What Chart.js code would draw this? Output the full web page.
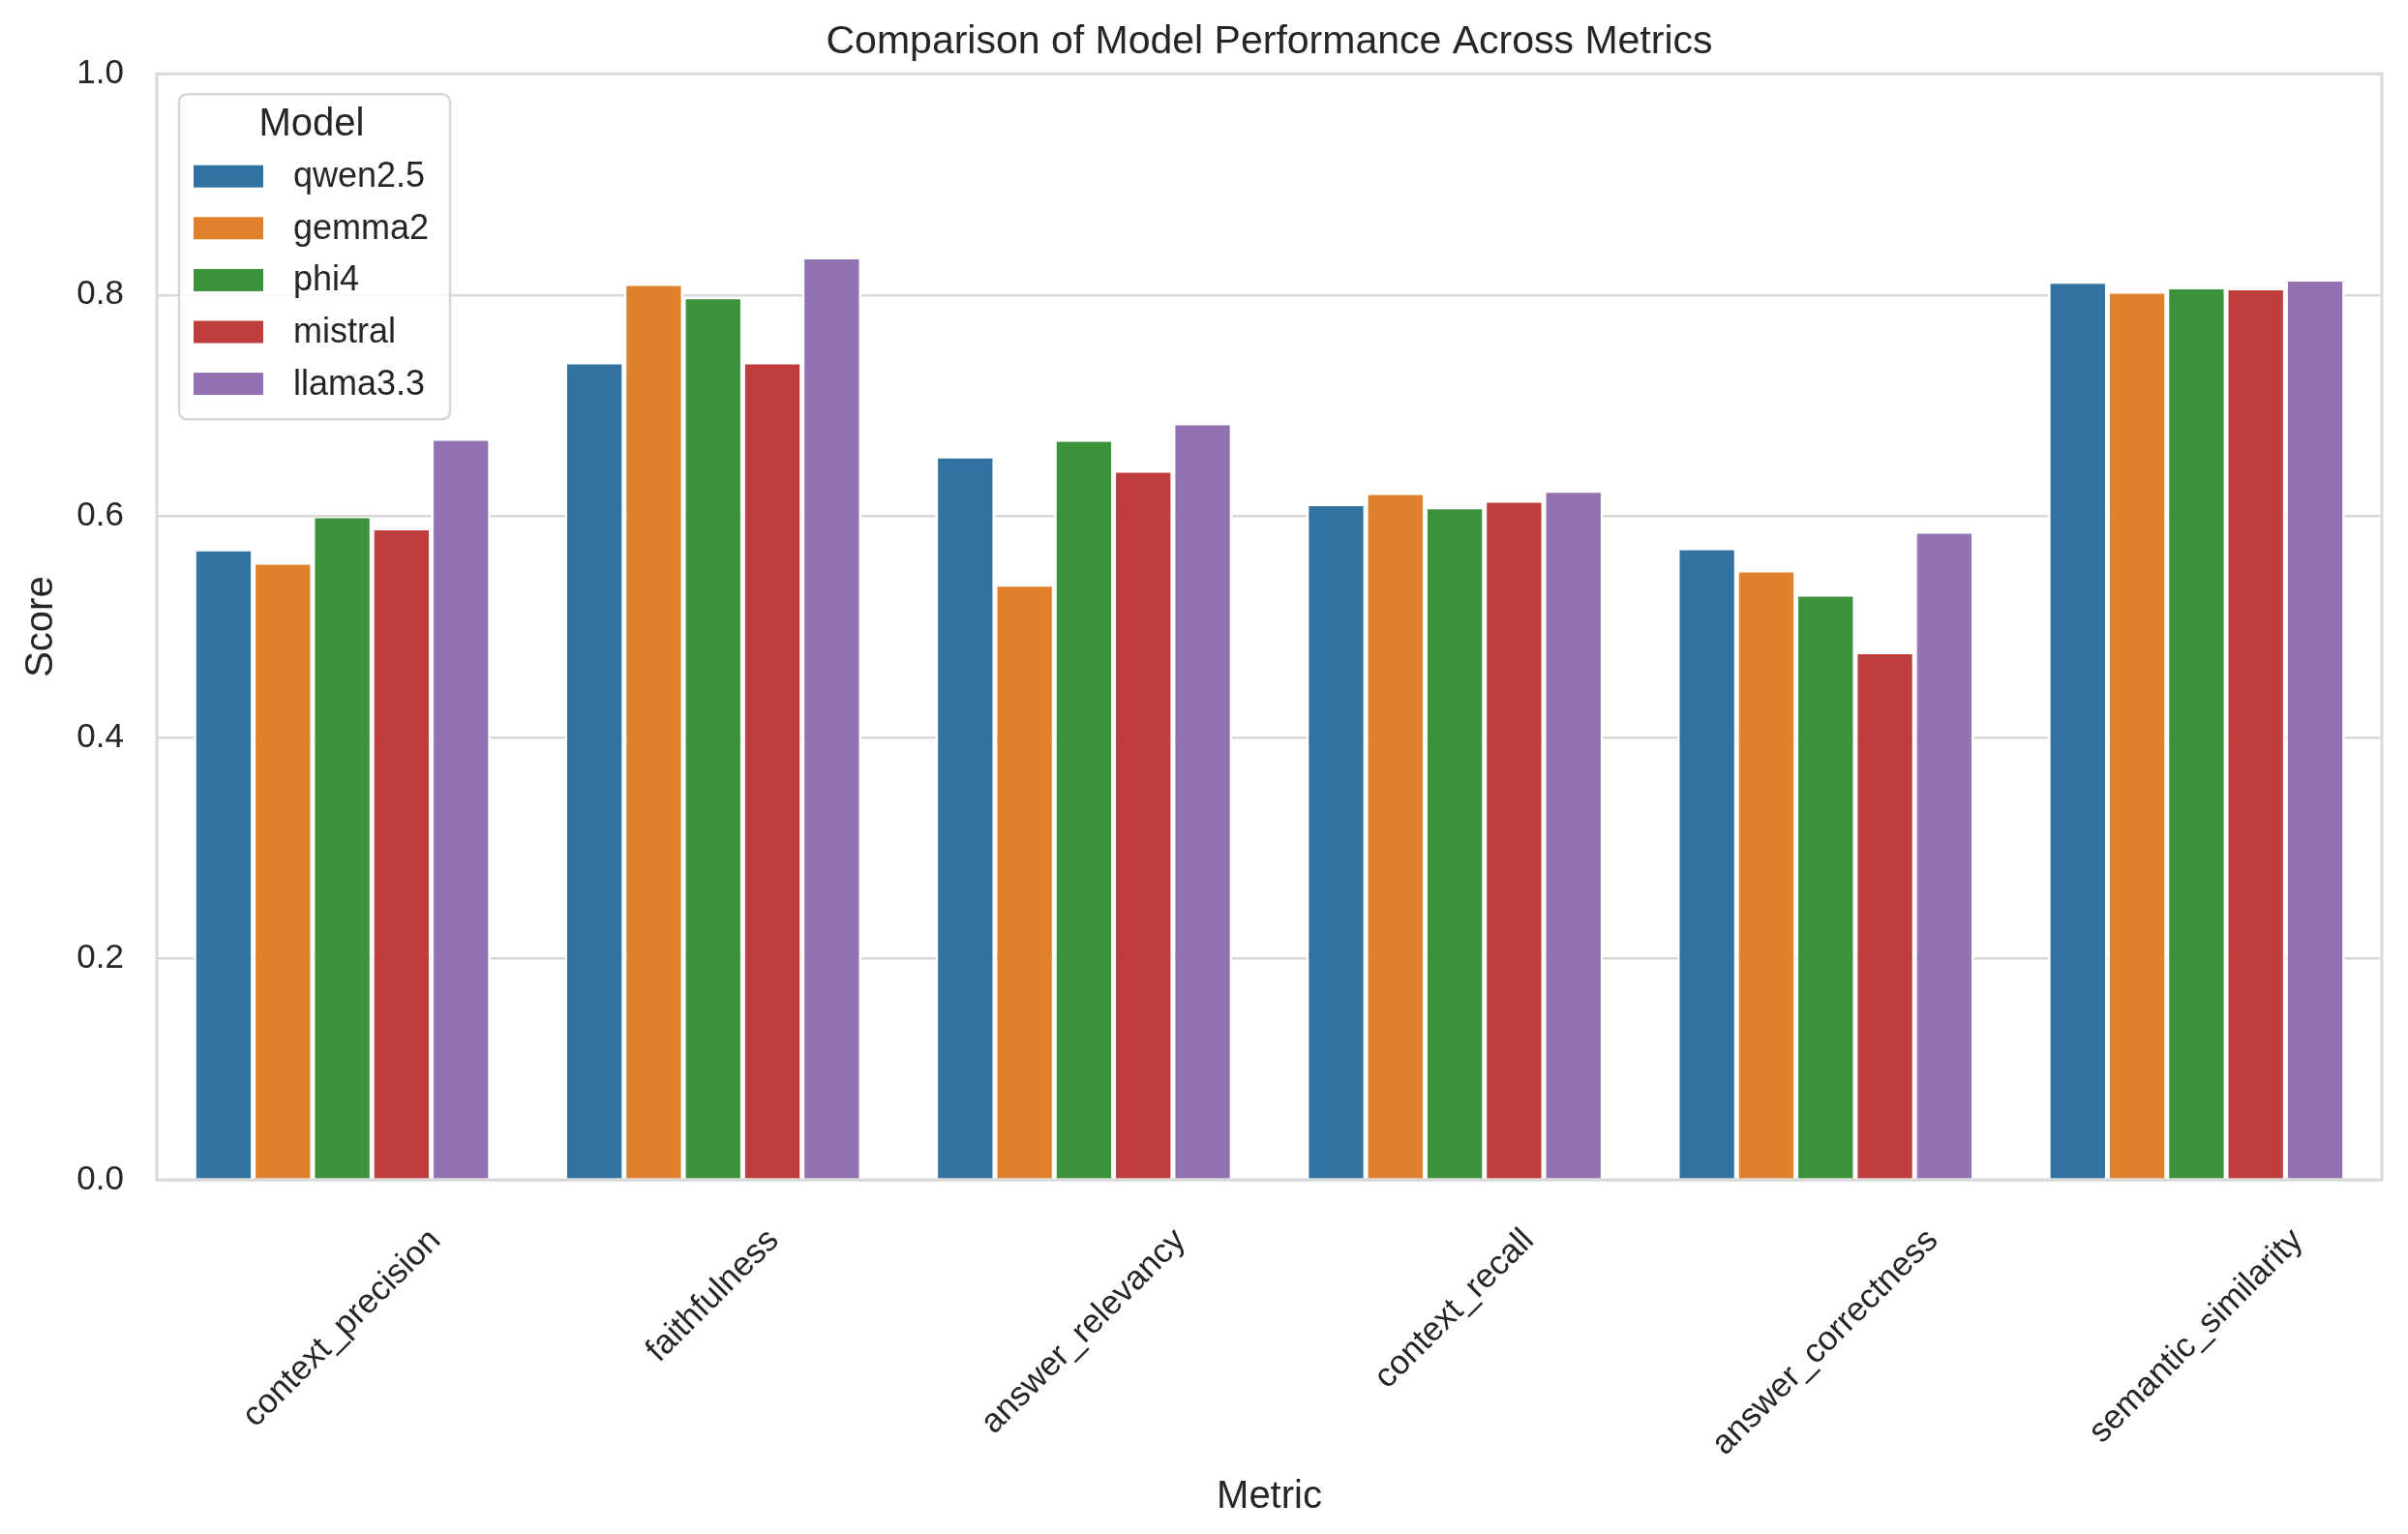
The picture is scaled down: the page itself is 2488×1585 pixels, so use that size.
<!DOCTYPE html>
<html>
<head>
<meta charset="utf-8">
<title>Comparison of Model Performance Across Metrics</title>
<script src="https://cdn.jsdelivr.net/npm/chart.js@4.4.1/dist/chart.umd.min.js"></script>
<style>
  html, body { margin: 0; padding: 0; background: #ffffff; overflow: hidden; }
  canvas { display: block; }
</style>
</head>
<body>
<canvas id="chart" width="2488" height="1585"></canvas>
<script>
// categories and values
var metrics = ['context_precision', 'faithfulness', 'answer_relevancy',
               'context_recall', 'answer_correctness', 'semantic_similarity'];
var models = ['qwen2.5', 'gemma2', 'phi4', 'mistral', 'llama3.3'];

var qwenScores    = [0.569, 0.738, 0.653, 0.610, 0.570, 0.811];
var gemmaScores   = [0.557, 0.809, 0.537, 0.620, 0.550, 0.802];
var phi4Scores    = [0.599, 0.797, 0.668, 0.607, 0.528, 0.806];
var mistralScores = [0.588, 0.738, 0.640, 0.613, 0.476, 0.805];
var llamaScores   = [0.669, 0.833, 0.683, 0.622, 0.585, 0.813];

var yTicks = [0.0, 0.2, 0.4, 0.6, 0.8, 1.0];

// seaborn tab10 at 0.75 saturation
var colors = ['#3274a1', '#e1812c', '#3a923a', '#c03d3e', '#9372b2'];
var allScores = [qwenScores, gemmaScores, phi4Scores, mistralScores, llamaScores];

var FONT = '"Liberation Sans", Arial, sans-serif';
var TEXT = '#262626';
var GRID = '#d9d9d9';

// box round the plot, rotated x labels and the legend box
var decorations = {
  id: 'decorations',
  afterDatasetsDraw: function (chart) {
    var ctx = chart.ctx, a = chart.chartArea;
    ctx.save();
    ctx.strokeStyle = GRID;
    ctx.lineWidth = 3;
    ctx.strokeRect(a.left, a.top, a.right - a.left, a.bottom - a.top);
    ctx.restore();
  },
  afterDraw: function (chart) {
    var ctx = chart.ctx, a = chart.chartArea;
    var xs = chart.scales.x;

    // x tick labels, centred under each category like matplotlib rotation=45
    ctx.save();
    ctx.font = '35px ' + FONT;
    ctx.fillStyle = TEXT;
    ctx.textAlign = 'center';
    ctx.textBaseline = 'middle';
    chart.data.labels.forEach(function (lab, i) {
      var x = xs.getPixelForValue(i);
      var L = ctx.measureText(lab).width;
      var cy = a.bottom + 45 + (L + 35) * Math.SQRT1_2 / 2;
      ctx.save();
      ctx.translate(x, cy);
      ctx.rotate(-Math.PI / 4);
      ctx.fillText(lab, 0, 0);
      ctx.restore();
    });
    ctx.restore();

    // legend
    var bx = a.left + 23, by = a.top + 21, bw = 280, bh = 336;
    ctx.save();
    ctx.beginPath();
    ctx.roundRect(bx, by, bw, bh, 8);
    ctx.fillStyle = 'rgba(255,255,255,0.8)';
    ctx.fill();
    ctx.strokeStyle = '#d6d6d6';
    ctx.lineWidth = 2.5;
    ctx.stroke();

    ctx.fillStyle = TEXT;
    ctx.font = '40px ' + FONT;
    ctx.textAlign = 'center';
    ctx.textBaseline = 'middle';
    ctx.fillText('Model', bx + bw / 2 - 3, by + 32);

    ctx.font = '36px ' + FONT;
    ctx.textAlign = 'left';
    chart.data.datasets.forEach(function (ds, i) {
      var cy = by + 85 + i * 53.6;
      ctx.fillStyle = ds.backgroundColor;
      ctx.fillRect(bx + 15, cy - 11.5, 72, 23);
      ctx.fillStyle = TEXT;
      ctx.fillText(ds.label, bx + 118, cy + 1);
    });
    ctx.restore();
  }
};

var datasets = models.map(function (m, i) {
  return {
    label: m,
    data: allScores[i],
    backgroundColor: colors[i],
    borderColor: '#ffffff',
    borderWidth: { top: 1, left: 2.5, right: 2.5, bottom: 0 },
    categoryPercentage: 0.8,
    barPercentage: 1.0
  };
});

var ctx = document.getElementById('chart').getContext('2d');
var chart = new Chart(ctx, {
  type: 'bar',
  data: {
    labels: metrics,
    datasets: datasets
  },
  plugins: [decorations],
  options: {
    responsive: false,
    animation: false,
    devicePixelRatio: 1,
    layout: { padding: { top: 0, right: 27, bottom: 0, left: 0 } },
    plugins: {
      legend: { display: false },
      tooltip: { enabled: false },
      title: {
        display: true,
        text: 'Comparison of Model Performance Across Metrics',
        fullSize: false,
        color: TEXT,
        font: { family: FONT, size: 41, weight: 'normal' },
        padding: { top: 19, bottom: 8 }
      }
    },
    scales: {
      x: {
        grid: { display: false },
        border: { display: false },
        ticks: { display: false },
        title: {
          display: true,
          text: 'Metric',
          color: TEXT,
          font: { family: FONT, size: 40 },
          padding: { top: 0, bottom: 14 }
        },
        afterFit: function (scale) { scale.height = 366; }
      },
      y: {
        min: 0,
        max: 1,
        grid: { color: GRID, lineWidth: 2.5, drawTicks: false },
        border: { display: false },
        afterBuildTicks: function (scale) {
          scale.ticks = yTicks.map(function (v) { return { value: v }; });
        },
        ticks: {
          color: TEXT,
          padding: 34,
          font: { family: FONT, size: 35 },
          callback: function (v) { return Number(v).toFixed(1); }
        },
        title: {
          display: true,
          text: 'Score',
          color: TEXT,
          font: { family: FONT, size: 40 },
          padding: { top: 19, bottom: 0 }
        },
        afterFit: function (scale) { scale.width = 162; }
      }
    }
  }
});
</script>
</body>
</html>
